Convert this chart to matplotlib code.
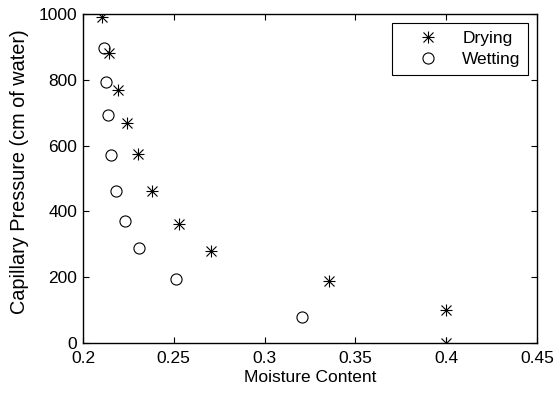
import matplotlib
matplotlib.use('Agg')
import matplotlib.pyplot as plt

plt.rcParams['font.family'] = ['Liberation Sans', 'DejaVu Sans']

# Drying curve
drying_x = [0.2105, 0.2145, 0.2193, 0.224, 0.2303, 0.238, 0.2529, 0.2707, 0.3353, 0.400, 0.400]
drying_y = [991, 881, 769, 668, 574, 463, 361, 281, 188, 100, 0]

# Wetting curve
wetting_x = [0.2116, 0.2125, 0.2138, 0.2156, 0.2183, 0.2233, 0.2306, 0.251, 0.3204]
wetting_y = [896, 794, 693, 570, 463, 371, 288, 195, 80]

fig = plt.figure(figsize=(5.58, 3.98), dpi=100)
ax = fig.add_axes([0.1487, 0.1382, 0.8137, 0.8266])

# asterisk marker like MATLAB: '+' on top of 'x'
d1, = ax.plot(drying_x, drying_y, linestyle='none', marker='+', markersize=9,
              color='black', markeredgewidth=0.8)
d2, = ax.plot(drying_x, drying_y, linestyle='none', marker='x', markersize=6.5,
              color='black', markeredgewidth=0.8)
w, = ax.plot(wetting_x, wetting_y, linestyle='none', marker='o', markersize=8,
             markerfacecolor='none', markeredgecolor='black', markeredgewidth=0.8)

ax.set_xlim(0.2, 0.45)
ax.set_ylim(0, 1000)
ax.set_xticks([0.2, 0.25, 0.3, 0.35, 0.4, 0.45])
ax.set_xticklabels(['0.2', '0.25', '0.3', '0.35', '0.4', '0.45'])
ax.set_yticks([0, 200, 400, 600, 800, 1000])
ax.tick_params(direction='in', top=True, right=True, labelsize=12.5, length=4, width=0.8)
ax.tick_params(axis='x', pad=6)
ax.tick_params(axis='y', pad=4)
for s in ax.spines.values():
    s.set_linewidth(1.0)

ax.set_xlabel('Moisture Content', fontsize=12.5, labelpad=3)
ax.set_ylabel('Capillary Pressure (cm of water)', fontsize=14.3)
ax.yaxis.set_label_coords(-0.118, 0.52)

leg = ax.legend([(d1, d2), w], ['Drying', 'Wetting'], loc='upper right', fancybox=False,
                edgecolor='black', framealpha=1, fontsize=12.5, handletextpad=0.3,
                handlelength=3.3, borderaxespad=0.5, borderpad=0.45, labelspacing=0.35)
leg.get_frame().set_linewidth(0.8)

fig.savefig('out.png', dpi=100)
